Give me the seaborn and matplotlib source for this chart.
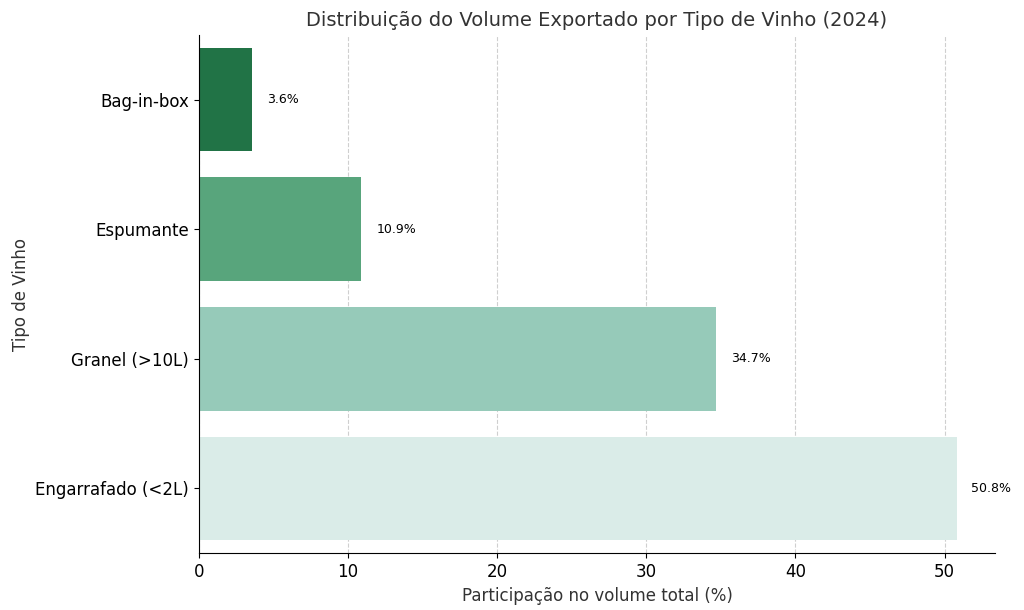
import matplotlib
matplotlib.use('Agg')
import matplotlib.pyplot as plt
import seaborn as sns
import pandas as pd

tipos = ['Bag-in-box', 'Espumante', 'Granel (>10L)', 'Engarrafado (<2L)']
participacao = [3.6, 10.9, 34.7, 50.8]
cores = ['#217346', '#58a57c', '#96cab9', '#daece8']

df = pd.DataFrame({'Tipo': tipos, 'Pct': participacao})

fig, ax = plt.subplots(figsize=(10.24, 6.1), dpi=100)
sns.barplot(data=df, y='Tipo', x='Pct', hue='Tipo', palette=cores, legend=False,
            ax=ax, width=0.8, saturation=1)
for i, v in enumerate(participacao):
    ax.text(v + 1.0, i, f'{v}%', va='center', fontsize=9)

ax.set_xlim(0, 53.4)
ax.grid(axis='x', linestyle='--', alpha=0.6)
ax.set_axisbelow(True)
sns.despine(ax=ax)
ax.set_title('Distribuição do Volume Exportado por Tipo de Vinho (2024)', fontsize=14, color='#333333')
ax.set_xlabel('Participação no volume total (%)', fontsize=12, color='#333333')
ax.set_ylabel('Tipo de Vinho', fontsize=12, color='#333333')
ax.tick_params(labelsize=12)
fig.subplots_adjust(left=0.194, right=0.972, top=0.943, bottom=0.093)
fig.savefig('out.png')
